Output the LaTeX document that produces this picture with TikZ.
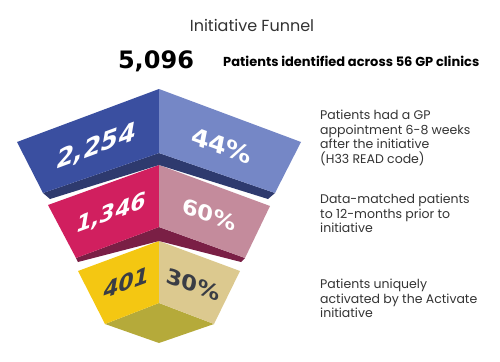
\documentclass[tikz,border=0pt]{standalone}
\usepackage{fontspec}
\setmainfont{Poppins}
\newfontfamily\numfont[FakeSlant=0.18]{DejaVu Sans}
\newfontfamily\bignumfont{DejaVu Sans}
\usetikzlibrary{positioning}
\definecolor{blueA}{HTML}{3A4FA0}
\definecolor{blueB}{HTML}{7587C6}
\definecolor{blueC}{HTML}{2E3A6E}
\definecolor{pinkA}{HTML}{D11F5F}
\definecolor{pinkB}{HTML}{C48B9C}
\definecolor{pinkC}{HTML}{7A1F45}
\definecolor{yelA}{HTML}{F4C712}
\definecolor{yelB}{HTML}{DCC98F}
\definecolor{yelC}{HTML}{B5AA3A}
\definecolor{txt}{HTML}{333333}
\definecolor{numdark}{HTML}{3A3D45}
\tikzstyle{num}=[font=\numfont\bfseries\fontsize{25}{25}\selectfont,text=white,inner sep=0]
\tikzstyle{numsmall}=[num,font=\numfont\bfseries\fontsize{22}{22}\selectfont]
\tikzstyle{lside}=[yslant=0.37]
\tikzstyle{rside}=[yslant=-0.37]
\tikzstyle{note}=[font=\fontsize{12.5}{14.6}\selectfont,text=txt,align=left,anchor=north west,inner sep=0]
\begin{document}
\begin{tikzpicture}[x=1pt,y=-1pt]
  \useasboundingbox (0,0) rectangle (500,361);
  % titles
  \node[font=\fontsize{16}{16}\selectfont,text=txt] (title) at (252,25) {Initiative Funnel};
  \node[font=\bignumfont\bfseries\fontsize{24}{24}\selectfont,text=black,inner sep=0] (total) at (156,61) {5,096};
  \node[font=\fontsize{13}{13}\selectfont\bfseries,text=black,anchor=west,inner sep=0] (totaltxt) at (223,61) {Patients identified across 56 GP clinics};
  % yellow tier
  \fill[yelC] (105,324) -- (159,303) -- (214,324) -- (159,343) -- cycle;
  \fill[yelA] (78,271) -- (159,241) -- (159,303) -- (105,324) -- cycle;
  \fill[yelB] (159,241) -- (240,271) -- (214,324) -- (159,303) -- cycle;
  % pink tier
  \fill[pinkC] (76,258) -- (159,227) -- (245,258) -- (241,262) -- (159,241) -- (78,262) -- cycle;
  \fill[pinkA] (48,205) -- (159,165) -- (159,227) -- (76,258) -- cycle;
  \fill[pinkB] (159,165) -- (270,206) -- (245,258) -- (159,227) -- cycle;
  % blue tier
  \fill[blueC] (43,193) -- (159,153) -- (275,193) -- (268,199) -- (159,165) -- (50,199) -- cycle;
  \fill[blueA] (17,142) -- (159,89) -- (159,153) -- (43,193) -- cycle;
  \fill[blueB] (159,89) -- (301,142) -- (275,193) -- (159,153) -- cycle;
  % numbers
  \node[num,lside] (n1) at (95,147) {2,254};
  \node[num,rside] (p1) at (220,145) {44\%};
  \node[numsmall,lside] (n2) at (110,214) {1,346};
  \node[numsmall,rside] (p2) at (208,214) {60\%};
  \node[numsmall,text=numdark,lside] (n3) at (125,283) {401};
  \node[numsmall,text=numdark,rside] (p3) at (192,284) {30\%};
  % notes
  \node[note] (t1) at (320,110) {Patients had a GP\\appointment 6-8 weeks\\after the initiative\\(H33 READ code)};
  \node[note] (t2) at (320,194) {Data-matched patients\\to 12-months prior to\\initiative};
  \node[note] (t3) at (320,279) {Patients uniquely\\activated by the Activate\\initiative};
\end{tikzpicture}
\end{document}
